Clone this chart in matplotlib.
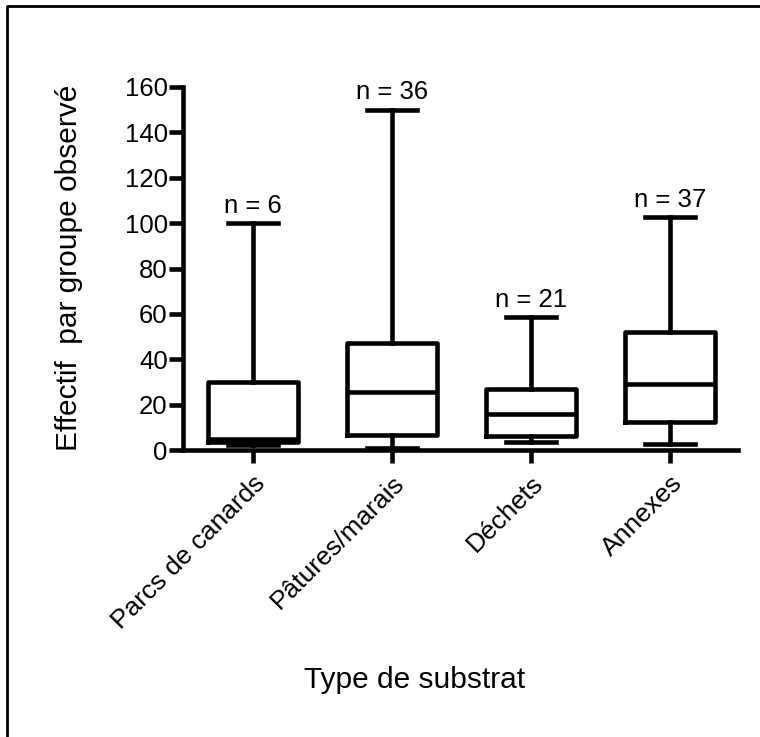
import matplotlib.pyplot as plt
from matplotlib.lines import Line2D

plt.rcParams['font.family'] = ['Liberation Sans', 'DejaVu Sans']

# lecture des boites (min, Q1, mediane, Q3, max) par substrat
categories = ["Parcs de canards", "Pâtures/marais", "Déchets", "Annexes"]
whisk_lo = [2.3, 0.7, 3.6, 2.6]
q1 = [3.7, 6.8, 6.2, 12.3]
med = [5, 25.6, 15.9, 28.9]
q3 = [30, 47.2, 26.7, 52]
whisk_hi = [100, 150, 58.5, 102.5]
effectifs = [6, 36, 21, 37]

stats = []
for i in range(len(categories)):
    stats.append(dict(whislo=whisk_lo[i], q1=q1[i], med=med[i], q3=q3[i],
                      whishi=whisk_hi[i], fliers=[], label=categories[i]))

W, H = 760, 737
fig = plt.figure(figsize=(W / 100, H / 100), dpi=100)
# axes en pixels : gauche 183, droite 738, haut 87, bas 450
ax = fig.add_axes([183 / W, 1 - 450 / H, (738 - 183) / W, (450 - 87) / H])

lw = 3.3
pos = [1, 2, 3, 4]
ax.bxp(stats, positions=pos, widths=0.65, showfliers=False,
       boxprops=dict(lw=lw, color='black'),
       medianprops=dict(lw=lw, color='black'),
       whiskerprops=dict(lw=lw, color='black'),
       capprops=dict(lw=lw, color='black'),
       capwidths=0.36)

for i in range(len(categories)):
    ax.annotate("n = " + str(effectifs[i]), (pos[i], whisk_hi[i]),
                xytext=(0, 7.5), textcoords='offset points',
                ha='center', va='baseline', fontsize=18.5)

ax.set_xlim(0.496, 4.49)
ax.set_ylim(0, 160)
ax.set_yticks(range(0, 161, 20))
ax.set_xticks(pos)
ax.set_xticklabels(categories, rotation=45, ha='right', rotation_mode='anchor',
                   fontsize=19)
ax.tick_params(axis='y', labelsize=18.5, length=10, width=lw, pad=1)
ax.tick_params(axis='x', length=9, width=lw, pad=6)
for s in ['top', 'right']:
    ax.spines[s].set_visible(False)
for s in ['left', 'bottom']:
    ax.spines[s].set_linewidth(lw)

fig.text(69 / W, 1 - 268 / H, "Effectif  par groupe observé",
         rotation=90, ha='center', va='center', fontsize=21.5)
fig.text(415 / W, 1 - 680 / H, "Type de substrat",
         ha='center', va='center', fontsize=21.5)

# cadre (haut et gauche seulement)
fig.add_artist(Line2D([7 / W, 7 / W, 1], [0, 1 - 6 / H, 1 - 6 / H],
                      transform=fig.transFigure, color='black', lw=2))

fig.savefig("out.png", dpi=100)
